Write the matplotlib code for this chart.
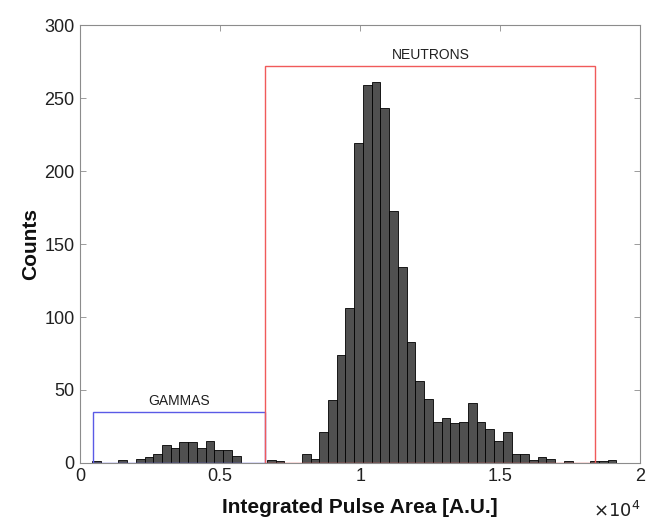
import numpy as np
import matplotlib
matplotlib.use("Agg")
import matplotlib.pyplot as plt
from matplotlib.patches import Rectangle

plt.rcParams['font.family'] = ['Liberation Sans', 'DejaVu Sans']

# histogram: 60 bins starting at bin_start, width bin_width
bin_start = 429.0
bin_width = 312.0
counts = [1, 0, 0, 2, 0, 3, 4, 6, 12, 10,
          14, 14, 10, 15, 9, 9, 5, 0, 0, 0,
          2, 1, 0, 0, 6, 3, 21, 43, 74, 106,
          219, 259, 261, 243, 173, 134, 83, 56, 44, 28,
          31, 27, 28, 41, 28, 23, 15, 21, 6, 6,
          2, 4, 3, 0, 1, 0, 0, 1, 1, 2]

# selection windows (x0, x1, height)
gamma_win = (450, 6620, 35)
neutron_win = (6620, 18400, 272)

xticks = [0, 5000, 10000, 15000, 20000]
xticklabels = ["0", "0.5", "1", "1.5", "2"]
yticks = [0, 50, 100, 150, 200, 250, 300]

edges = bin_start + bin_width * np.arange(len(counts) + 1)

fig = plt.figure(figsize=(6.46, 5.26), dpi=100)
ax = fig.add_axes([0.124, 0.120, 0.867, 0.832])

ax.hist(edges[:-1], bins=edges, weights=counts, color="#505050",
        edgecolor="black", linewidth=0.6, zorder=2)

gx0, gx1, gh = gamma_win
ax.add_patch(Rectangle((gx0, 0), gx1 - gx0, gh, fill=False,
                       edgecolor="#5a5ae6", linewidth=1.0, zorder=3))
ax.text((gx0 + gx1) / 2, gh + 2.5, "GAMMAS", ha="center", va="bottom",
        fontsize=10, color="#202020")
nx0, nx1, nh = neutron_win
ax.add_patch(Rectangle((nx0, 0), nx1 - nx0, nh, fill=False,
                       edgecolor="#f05a5a", linewidth=1.0, zorder=3))
ax.text((nx0 + nx1) / 2, nh + 2.5, "NEUTRONS", ha="center", va="bottom",
        fontsize=10, color="#202020")

ax.set_xlim(0, 20000)
ax.set_ylim(0, 300)
ax.set_xticks(xticks)
ax.set_xticklabels(xticklabels)
ax.set_yticks(yticks)
ax.tick_params(direction="in", length=4, width=0.6, labelsize=13,
               top=True, right=True, color="#8c8c8c", pad=4,
               labelcolor="#202020")
for s in ax.spines.values():
    s.set_color("#8c8c8c")
    s.set_linewidth(0.8)

ax.set_xlabel("Integrated Pulse Area [A.U.]", fontsize=15, fontweight="bold",
              labelpad=9, color="#101010")
ax.set_ylabel("Counts", fontsize=15, fontweight="bold", labelpad=3,
              color="#101010")
ax.text(1.0, -0.11, r"$\times10^{4}$", transform=ax.transAxes,
        ha="right", va="center", fontsize=13, color="#202020")

fig.savefig("out.png", dpi=100)
plt.close(fig)
